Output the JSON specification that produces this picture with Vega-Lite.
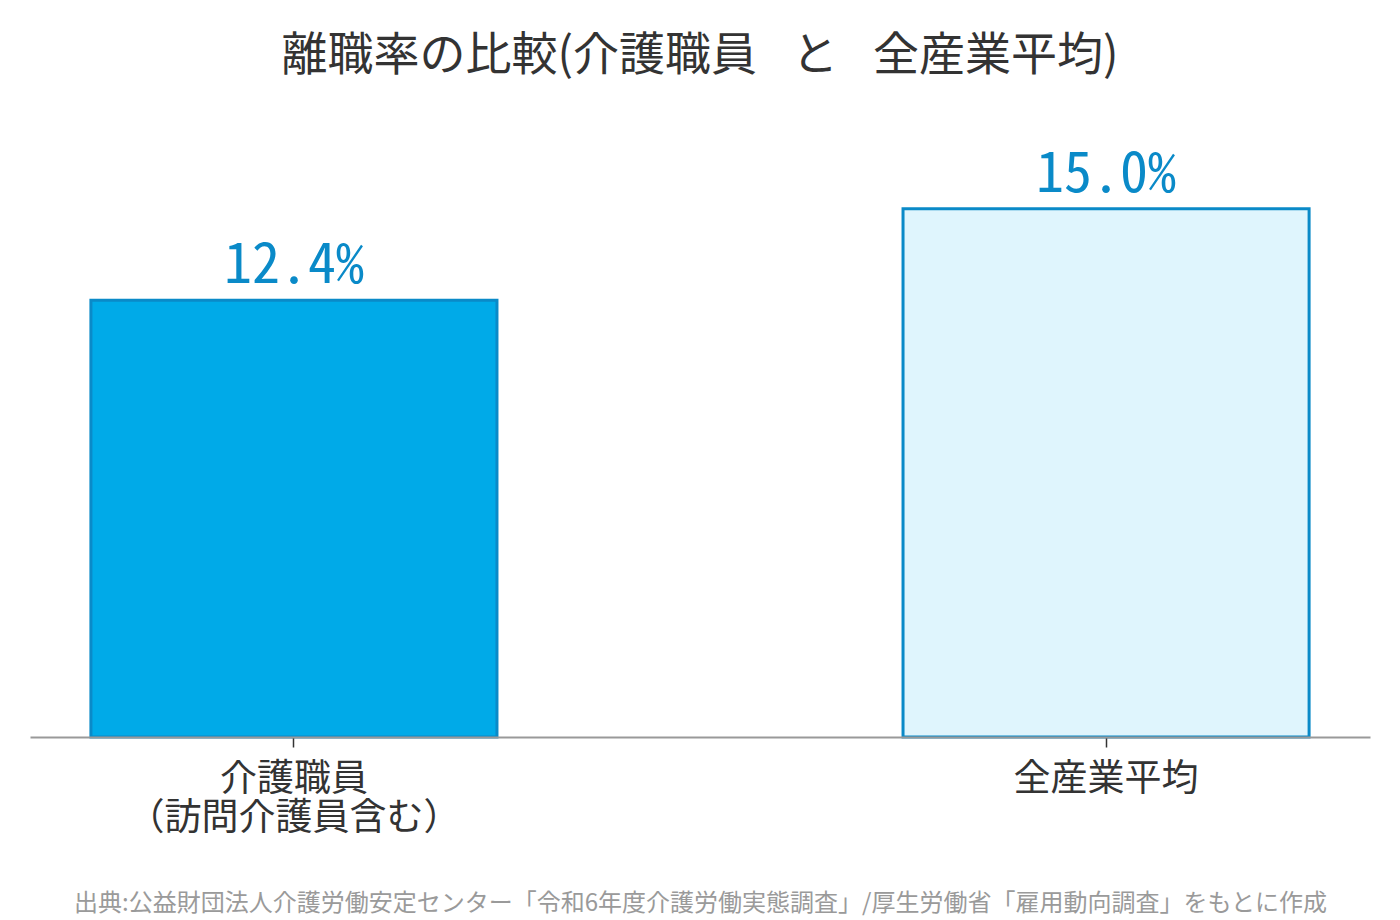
{
  "$schema": "https://vega.github.io/schema/vega-lite/v6.json",
  "autosize": "none",
  "width": 1340,
  "height": 634,
  "padding": {"left": 30, "right": 30, "top": 103, "bottom": 183},
  "background": "white",
  "title": {
    "text": "離職率の比較(介護職員\u2002\u2009\u200aと\u2002\u2009\u200a全産業平均)",
    "font": "Noto Sans CJK JP",
    "fontSize": 46,
    "fontWeight": "normal",
    "color": "#333333",
    "anchor": "middle",
    "offset": 23
  },
  "data": {
    "values": [
      {"category": "介護職員\n（訪問介護員含む）", "rate": 0.124, "group": "care"},
      {"category": "全産業平均", "rate": 0.15, "group": "all"}
    ]
  },
  "encoding": {
    "x": {
      "field": "category",
      "type": "nominal",
      "sort": null,
      "scale": {"paddingInner": 0.5, "paddingOuter": 0.075},
      "axis": {
        "title": "出典:公益財団法人介護労働安定センター「令和6年度介護労働実態調査」/厚生労働省「雇用動向調査」をもとに作成",
        "titleFont": "Noto Sans CJK JP",
        "titleFontSize": 24,
        "titleFontWeight": "normal",
        "titleColor": "#9a9a9a",
        "titlePadding": 55,
        "labelExpr": "split(datum.label, '\\n')",
        "labelAngle": 0,
        "labelLimit": 0,
        "labelFont": "Noto Sans CJK JP",
        "labelFontSize": 37,
        "labelLineHeight": 39,
        "labelColor": "#333333",
        "labelPadding": 14,
        "domainColor": "#999999",
        "domainWidth": 2,
        "tickColor": "#333333",
        "tickWidth": 1.5,
        "tickSize": 10,
        "zindex": 1
      }
    },
    "y": {
      "field": "rate",
      "type": "quantitative",
      "scale": {"domain": [0, 0.18], "nice": false},
      "axis": null
    }
  },
  "layer": [
    {
      "mark": {"type": "bar", "stroke": "#0a8ac8", "strokeWidth": 3},
      "encoding": {
        "color": {
          "field": "group",
          "type": "nominal",
          "scale": {"domain": ["care", "all"], "range": ["#00aae8", "#dff5fd"]},
          "legend": null
        }
      }
    },
    {
      "mark": {
        "type": "text",
        "font": "Noto Sans Mono CJK JP",
        "fontSize": 56,
        "color": "#0a8ac8",
        "baseline": "alphabetic",
        "dy": -17
      },
      "encoding": {
        "text": {"field": "rate", "type": "quantitative", "format": ".1%"}
      }
    }
  ],
  "config": {
    "view": {"stroke": null}
  }
}
